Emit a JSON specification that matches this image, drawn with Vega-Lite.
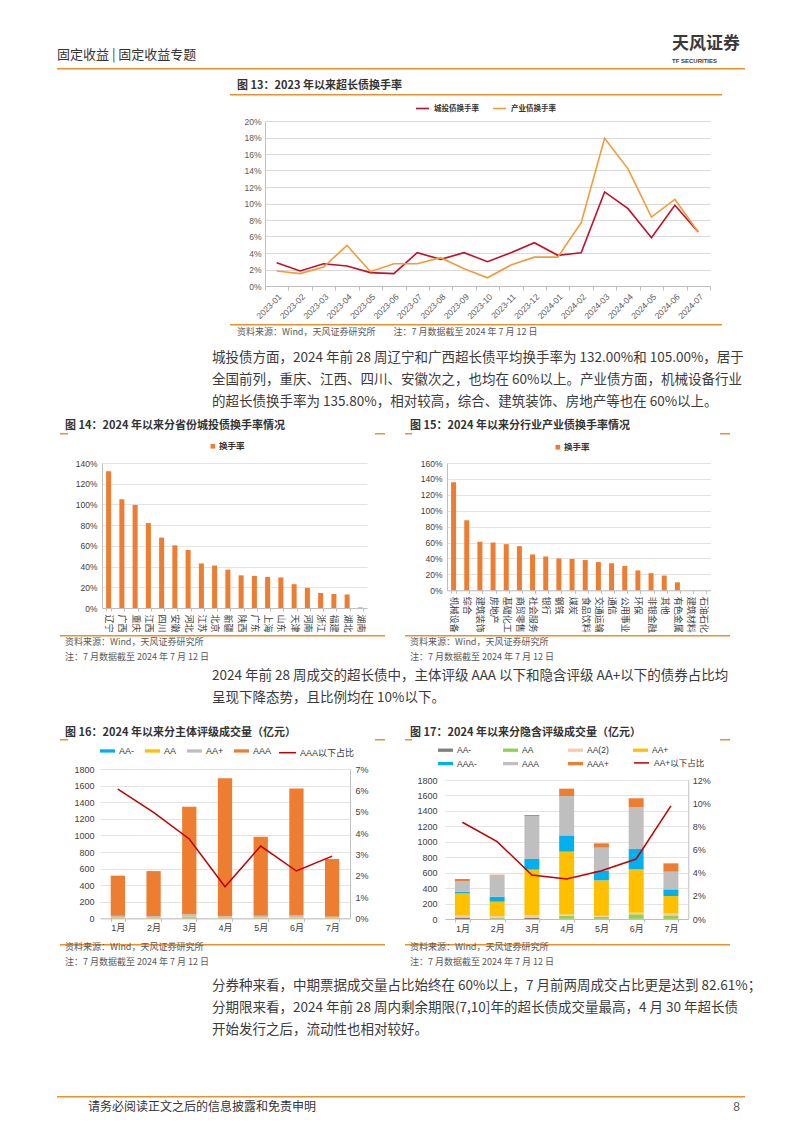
{
  "$schema": "https://vega.github.io/schema/vega-lite/v6.json",
  "background": "#ffffff",
  "padding": {"left": 57, "top": 20, "right": 0, "bottom": 0},
  "autosize": {"type": "pad"},
  "config": {
    "view": {"stroke": null},
    "font": "Noto Sans CJK SC",
    "title": {"anchor": "start", "frame": "group", "font": "Noto Sans CJK SC", "limit": 1000},
    "legend": {"padding": 0, "titlePadding": 0, "labelFont": "Liberation Sans, Noto Sans CJK SC"},
    "axis": {"labelFont": "Liberation Sans, Noto Sans CJK SC"}
  },
  "datasets": {
    "fig13": [
      {"month": "2023-01", "series": "城投债换手率", "value": 0.0283},
      {"month": "2023-02", "series": "城投债换手率", "value": 0.0182},
      {"month": "2023-03", "series": "城投债换手率", "value": 0.027},
      {"month": "2023-04", "series": "城投债换手率", "value": 0.0242},
      {"month": "2023-05", "series": "城投债换手率", "value": 0.0162},
      {"month": "2023-06", "series": "城投债换手率", "value": 0.015},
      {"month": "2023-07", "series": "城投债换手率", "value": 0.0404},
      {"month": "2023-08", "series": "城投债换手率", "value": 0.0323},
      {"month": "2023-09", "series": "城投债换手率", "value": 0.0404},
      {"month": "2023-10", "series": "城投债换手率", "value": 0.0295},
      {"month": "2023-11", "series": "城投债换手率", "value": 0.0404},
      {"month": "2023-12", "series": "城投债换手率", "value": 0.0525},
      {"month": "2024-01", "series": "城投债换手率", "value": 0.0372},
      {"month": "2024-02", "series": "城投债换手率", "value": 0.0404},
      {"month": "2024-03", "series": "城投债换手率", "value": 0.114},
      {"month": "2024-04", "series": "城投债换手率", "value": 0.0937},
      {"month": "2024-05", "series": "城投债换手率", "value": 0.0586},
      {"month": "2024-06", "series": "城投债换手率", "value": 0.0978},
      {"month": "2024-07", "series": "城投债换手率", "value": 0.0655},
      {"month": "2023-01", "series": "产业债换手率", "value": 0.0182},
      {"month": "2023-02", "series": "产业债换手率", "value": 0.015},
      {"month": "2023-03", "series": "产业债换手率", "value": 0.023},
      {"month": "2023-04", "series": "产业债换手率", "value": 0.0493},
      {"month": "2023-05", "series": "产业债换手率", "value": 0.0174},
      {"month": "2023-06", "series": "产业债换手率", "value": 0.027},
      {"month": "2023-07", "series": "产业债换手率", "value": 0.027},
      {"month": "2023-08", "series": "产业债换手率", "value": 0.0343},
      {"month": "2023-09", "series": "产业债换手率", "value": 0.021},
      {"month": "2023-10", "series": "产业债换手率", "value": 0.01},
      {"month": "2023-11", "series": "产业债换手率", "value": 0.0255},
      {"month": "2023-12", "series": "产业债换手率", "value": 0.035},
      {"month": "2024-01", "series": "产业债换手率", "value": 0.035},
      {"month": "2024-02", "series": "产业债换手率", "value": 0.0768},
      {"month": "2024-03", "series": "产业债换手率", "value": 0.179},
      {"month": "2024-04", "series": "产业债换手率", "value": 0.142},
      {"month": "2024-05", "series": "产业债换手率", "value": 0.0836},
      {"month": "2024-06", "series": "产业债换手率", "value": 0.105},
      {"month": "2024-07", "series": "产业债换手率", "value": 0.0655}
    ],
    "fig14": [
      {"province": "辽宁", "series": "换手率", "rate": 1.32},
      {"province": "广西", "series": "换手率", "rate": 1.05},
      {"province": "重庆", "series": "换手率", "rate": 0.995},
      {"province": "江西", "series": "换手率", "rate": 0.82},
      {"province": "四川", "series": "换手率", "rate": 0.68},
      {"province": "安徽", "series": "换手率", "rate": 0.605},
      {"province": "河北", "series": "换手率", "rate": 0.56},
      {"province": "江苏", "series": "换手率", "rate": 0.43},
      {"province": "北京", "series": "换手率", "rate": 0.41},
      {"province": "新疆", "series": "换手率", "rate": 0.37},
      {"province": "陕西", "series": "换手率", "rate": 0.315},
      {"province": "广东", "series": "换手率", "rate": 0.31},
      {"province": "上海", "series": "换手率", "rate": 0.30},
      {"province": "山东", "series": "换手率", "rate": 0.295},
      {"province": "天津", "series": "换手率", "rate": 0.23},
      {"province": "河南", "series": "换手率", "rate": 0.195},
      {"province": "浙江", "series": "换手率", "rate": 0.145},
      {"province": "福建", "series": "换手率", "rate": 0.135},
      {"province": "湖北", "series": "换手率", "rate": 0.13},
      {"province": "湖南", "series": "换手率", "rate": 0.005}
    ],
    "fig15": [
      {"industry": "机械设备", "series": "换手率", "rate": 1.358},
      {"industry": "综合", "series": "换手率", "rate": 0.88},
      {"industry": "建筑装饰", "series": "换手率", "rate": 0.61},
      {"industry": "房地产", "series": "换手率", "rate": 0.60},
      {"industry": "基础化工", "series": "换手率", "rate": 0.58},
      {"industry": "商贸零售", "series": "换手率", "rate": 0.555},
      {"industry": "社会服务", "series": "换手率", "rate": 0.45},
      {"industry": "银行", "series": "换手率", "rate": 0.425},
      {"industry": "钢铁", "series": "换手率", "rate": 0.40},
      {"industry": "煤炭", "series": "换手率", "rate": 0.395},
      {"industry": "食品饮料", "series": "换手率", "rate": 0.38},
      {"industry": "交通运输", "series": "换手率", "rate": 0.355},
      {"industry": "通信", "series": "换手率", "rate": 0.34},
      {"industry": "公用事业", "series": "换手率", "rate": 0.305},
      {"industry": "环保", "series": "换手率", "rate": 0.25},
      {"industry": "非银金融", "series": "换手率", "rate": 0.215},
      {"industry": "其他", "series": "换手率", "rate": 0.185},
      {"industry": "有色金属", "series": "换手率", "rate": 0.10},
      {"industry": "建筑材料", "series": "换手率", "rate": 0.0},
      {"industry": "石油石化", "series": "换手率", "rate": 0.0}
    ],
    "fig16bars": [
      {"month": "1月", "rating": "AA-", "rank": 1, "amount": 1},
      {"month": "1月", "rating": "AA", "rank": 2, "amount": 6},
      {"month": "1月", "rating": "AA+", "rank": 3, "amount": 24},
      {"month": "1月", "rating": "AAA", "rank": 4, "amount": 484},
      {"month": "2月", "rating": "AA-", "rank": 1, "amount": 1},
      {"month": "2月", "rating": "AA", "rank": 2, "amount": 5},
      {"month": "2月", "rating": "AA+", "rank": 3, "amount": 22},
      {"month": "2月", "rating": "AAA", "rank": 4, "amount": 542},
      {"month": "3月", "rating": "AA-", "rank": 1, "amount": 2},
      {"month": "3月", "rating": "AA", "rank": 2, "amount": 20},
      {"month": "3月", "rating": "AA+", "rank": 3, "amount": 28},
      {"month": "3月", "rating": "AAA", "rank": 4, "amount": 1295},
      {"month": "4月", "rating": "AA-", "rank": 1, "amount": 1},
      {"month": "4月", "rating": "AA", "rank": 2, "amount": 5},
      {"month": "4月", "rating": "AA+", "rank": 3, "amount": 19},
      {"month": "4月", "rating": "AAA", "rank": 4, "amount": 1665},
      {"month": "5月", "rating": "AA-", "rank": 1, "amount": 1},
      {"month": "5月", "rating": "AA", "rank": 2, "amount": 8},
      {"month": "5月", "rating": "AA+", "rank": 3, "amount": 24},
      {"month": "5月", "rating": "AAA", "rank": 4, "amount": 952},
      {"month": "6月", "rating": "AA-", "rank": 1, "amount": 1},
      {"month": "6月", "rating": "AA", "rank": 2, "amount": 10},
      {"month": "6月", "rating": "AA+", "rank": 3, "amount": 24},
      {"month": "6月", "rating": "AAA", "rank": 4, "amount": 1530},
      {"month": "7月", "rating": "AA-", "rank": 1, "amount": 1},
      {"month": "7月", "rating": "AA", "rank": 2, "amount": 5},
      {"month": "7月", "rating": "AA+", "rank": 3, "amount": 15},
      {"month": "7月", "rating": "AAA", "rank": 4, "amount": 694}
    ],
    "fig16line": [
      {"month": "1月", "series": "AAA以下占比", "pct": 0.0606},
      {"month": "2月", "series": "AAA以下占比", "pct": 0.0497},
      {"month": "3月", "series": "AAA以下占比", "pct": 0.0372},
      {"month": "4月", "series": "AAA以下占比", "pct": 0.0148},
      {"month": "5月", "series": "AAA以下占比", "pct": 0.0339},
      {"month": "6月", "series": "AAA以下占比", "pct": 0.0222},
      {"month": "7月", "series": "AAA以下占比", "pct": 0.0292}
    ],
    "fig17bars": [
      {"month": "1月", "rating": "AA-", "rank": 1, "amount": 15},
      {"month": "1月", "rating": "AA", "rank": 2, "amount": 8},
      {"month": "1月", "rating": "AA(2)", "rank": 3, "amount": 20},
      {"month": "1月", "rating": "AA+", "rank": 4, "amount": 289},
      {"month": "1月", "rating": "AAA-", "rank": 5, "amount": 22},
      {"month": "1月", "rating": "AAA", "rank": 6, "amount": 138},
      {"month": "1月", "rating": "AAA+", "rank": 7, "amount": 26},
      {"month": "2月", "rating": "AA-", "rank": 1, "amount": 5},
      {"month": "2月", "rating": "AA", "rank": 2, "amount": 8},
      {"month": "2月", "rating": "AA(2)", "rank": 3, "amount": 25},
      {"month": "2月", "rating": "AA+", "rank": 4, "amount": 186},
      {"month": "2月", "rating": "AAA-", "rank": 5, "amount": 65},
      {"month": "2月", "rating": "AAA", "rank": 6, "amount": 282},
      {"month": "2月", "rating": "AAA+", "rank": 7, "amount": 3},
      {"month": "3月", "rating": "AA-", "rank": 1, "amount": 15},
      {"month": "3月", "rating": "AA", "rank": 2, "amount": 6},
      {"month": "3月", "rating": "AA(2)", "rank": 3, "amount": 30},
      {"month": "3月", "rating": "AA+", "rank": 4, "amount": 588},
      {"month": "3月", "rating": "AAA-", "rank": 5, "amount": 138},
      {"month": "3月", "rating": "AAA", "rank": 6, "amount": 557},
      {"month": "3月", "rating": "AAA+", "rank": 7, "amount": 13},
      {"month": "4月", "rating": "AA-", "rank": 1, "amount": 3},
      {"month": "4月", "rating": "AA", "rank": 2, "amount": 40},
      {"month": "4月", "rating": "AA(2)", "rank": 3, "amount": 15},
      {"month": "4月", "rating": "AA+", "rank": 4, "amount": 814},
      {"month": "4月", "rating": "AAA-", "rank": 5, "amount": 211},
      {"month": "4月", "rating": "AAA", "rank": 6, "amount": 510},
      {"month": "4月", "rating": "AAA+", "rank": 7, "amount": 95},
      {"month": "5月", "rating": "AA-", "rank": 1, "amount": 3},
      {"month": "5月", "rating": "AA", "rank": 2, "amount": 25},
      {"month": "5月", "rating": "AA(2)", "rank": 3, "amount": 13},
      {"month": "5月", "rating": "AA+", "rank": 4, "amount": 460},
      {"month": "5月", "rating": "AAA-", "rank": 5, "amount": 121},
      {"month": "5月", "rating": "AAA", "rank": 6, "amount": 302},
      {"month": "5月", "rating": "AAA+", "rank": 7, "amount": 56},
      {"month": "6月", "rating": "AA-", "rank": 1, "amount": 3},
      {"month": "6月", "rating": "AA", "rank": 2, "amount": 58},
      {"month": "6月", "rating": "AA(2)", "rank": 3, "amount": 20},
      {"month": "6月", "rating": "AA+", "rank": 4, "amount": 562},
      {"month": "6月", "rating": "AAA-", "rank": 5, "amount": 263},
      {"month": "6月", "rating": "AAA", "rank": 6, "amount": 540},
      {"month": "6月", "rating": "AAA+", "rank": 7, "amount": 117},
      {"month": "7月", "rating": "AA-", "rank": 1, "amount": 2},
      {"month": "7月", "rating": "AA", "rank": 2, "amount": 45},
      {"month": "7月", "rating": "AA(2)", "rank": 3, "amount": 23},
      {"month": "7月", "rating": "AA+", "rank": 4, "amount": 228},
      {"month": "7月", "rating": "AAA-", "rank": 5, "amount": 86},
      {"month": "7月", "rating": "AAA", "rank": 6, "amount": 229},
      {"month": "7月", "rating": "AAA+", "rank": 7, "amount": 108}
    ],
    "fig17line": [
      {"month": "1月", "series": "AA+以下占比", "pct": 0.0835},
      {"month": "2月", "series": "AA+以下占比", "pct": 0.0668},
      {"month": "3月", "series": "AA+以下占比", "pct": 0.038},
      {"month": "4月", "series": "AA+以下占比", "pct": 0.0345},
      {"month": "5月", "series": "AA+以下占比", "pct": 0.0417},
      {"month": "6月", "series": "AA+以下占比", "pct": 0.0518},
      {"month": "7月", "series": "AA+以下占比", "pct": 0.0976}
    ]
  },
  "spacing": 0,
  "bounds": "flush",
  "resolve": {"scale": {"color": "independent", "fill": "independent", "stroke": "independent"}},
  "vconcat": [
    {"width": 688, "height": 47.5, "data": {"values": []}, "mark": "point"},
    {
      "spacing": 0, "bounds": "flush",
      "hconcat": [
        {"width": 615, "height": 1.5, "view": {"fill": "#E8912E"}, "data": {"values": []}, "mark": "point",
         "title": {"text": "固定收益 | 固定收益专题", "orient": "top", "offset": 5.8, "fontSize": 13, "fontWeight": "normal", "color": "#333333"}},
        {"width": 73, "height": 1.5, "view": {"fill": "#E8912E"}, "data": {"values": []}, "mark": "point",
         "title": {"text": "天风证券", "subtitle": "TF SECURITIES", "orient": "top", "offset": 3, "fontSize": 17, "fontWeight": "bold", "color": "#3a3a3a", "subtitleFontSize": 6, "subtitleFontWeight": "bold", "subtitleColor": "#3a3a3a", "subtitleFont": "Liberation Sans", "subtitlePadding": 5.5}}
      ]
    },
    {"width": 688, "height": 25.5, "data": {"values": []}, "mark": "point"},
    {
      "spacing": 0, "bounds": "flush",
      "hconcat": [
        {"width": 173, "height": 1.5, "data": {"values": []}, "mark": "point"},
        {"width": 492, "height": 1.5, "view": {"fill": "#E8912E"}, "data": {"values": []}, "mark": "point",
         "title": {"text": "图 13：2023 年以来超长债换手率", "orient": "top", "offset": 3, "dx": 7, "fontSize": 11, "fontWeight": "bold", "color": "#333333"}}
      ]
    },
    {"width": 688, "height": 27, "data": {"values": []}, "mark": "point"},
    {
      "spacing": 0, "bounds": "flush",
      "resolve": {"scale": {"color": "independent", "fill": "independent", "stroke": "independent"}},
      "hconcat": [
        {"width": 208, "height": 165, "data": {"values": []}, "mark": "point"},
        {
          "width": 445, "height": 165,
          "data": {"name": "fig13"},
          "mark": {"type": "line", "strokeWidth": 1.6},
          "encoding": {
            "x": {"field": "month", "type": "ordinal", "scale": {"type": "band", "paddingInner": 0, "paddingOuter": 0},
                  "axis": {"title": null, "labelAngle": -45, "labelFontSize": 8.5, "labelColor": "#595959", "tickBand": "extent", "tickSize": 4, "tickColor": "#BFBFBF", "domainColor": "#BFBFBF", "labelPadding": 2, "grid": false}},
            "y": {"field": "value", "type": "quantitative", "scale": {"domain": [0, 0.2]},
                  "axis": {"title": null, "format": ".0%", "values": [0, 0.02, 0.04, 0.06, 0.08, 0.1, 0.12, 0.14, 0.16, 0.18, 0.2], "labelFontSize": 8.5, "labelColor": "#595959", "gridColor": "#D9D9D9", "domainColor": "#BFBFBF", "ticks": false, "labelPadding": 4}},
            "color": {"field": "series", "type": "nominal",
                      "scale": {"domain": ["城投债换手率", "产业债换手率"], "range": ["#C0102A", "#F39B3A"]},
                      "legend": {"orient": "none", "legendX": 150, "legendY": -20, "direction": "horizontal", "title": null, "symbolType": "stroke", "symbolSize": 169, "symbolStrokeWidth": 1.6, "labelFontSize": 7.5, "labelFontWeight": "bold", "labelColor": "#333333", "labelOffset": 4, "columnPadding": 10}}
          }
        }
      ]
    },
    {"width": 688, "height": 202.5, "data": {"values": []}, "mark": "point"},
    {
      "spacing": 0, "bounds": "flush",
      "hconcat": [
        {"width": 173, "height": 1.5, "data": {"values": []}, "mark": "point"},
        {"width": 492, "height": 1.5, "view": {"fill": "#E8912E"}, "data": {"values": []}, "mark": "point",
         "title": {"text": "资料来源：Wind，天风证券研究所　　注：7 月数据截至 2024 年 7 月 12 日", "orient": "bottom", "baseline": "top", "offset": 2.3, "dx": 7, "fontSize": 9, "fontWeight": "normal", "color": "#595959"}}
      ]
    },
    {
      "spacing": 0, "bounds": "flush",
      "hconcat": [
        {"width": 155, "height": 27, "data": {"values": []}, "mark": "point"},
        {"width": 533, "height": 27, "data": {"values": []}, "mark": "point",
         "title": {"text": ["城投债方面，2024 年前 28 周辽宁和广西超长债平均换手率为 132.00%和 105.00%，居于", "全国前列，重庆、江西、四川、安徽次之，也均在 60%以上。产业债方面，机械设备行业", "的超长债换手率为 135.80%，相对较高，综合、建筑装饰、房地产等也在 60%以上。"], "orient": "bottom", "baseline": "top", "offset": 0, "lineHeight": 22, "fontSize": 13.5, "fontWeight": "normal", "color": "#3b3b3b"}}
      ]
    },
    {"width": 688, "height": 109, "data": {"values": []}, "mark": "point"},
    {
      "spacing": 0, "bounds": "flush",
      "hconcat": [
        {"width": 3, "height": 1.5, "data": {"values": []}, "mark": "point"},
        {"width": 8, "height": 1.5, "view": {"fill": "#E8912E"}, "data": {"values": []}, "mark": "point"},
        {"width": 307, "height": 1.5, "data": {"values": []}, "mark": "point",
         "title": {"text": "图 14：2024 年以来分省份城投债换手率情况", "orient": "top", "offset": 2.3, "dx": -3, "fontSize": 11, "fontWeight": "bold", "color": "#333333"}},
        {"width": 10, "height": 1.5, "view": {"fill": "#E8912E"}, "data": {"values": []}, "mark": "point"},
        {"width": 20, "height": 1.5, "data": {"values": []}, "mark": "point"},
        {"width": 7, "height": 1.5, "view": {"fill": "#E8912E"}, "data": {"values": []}, "mark": "point"},
        {"width": 308, "height": 1.5, "data": {"values": []}, "mark": "point",
         "title": {"text": "图 15：2024 年以来分行业产业债换手率情况", "orient": "top", "offset": 2.3, "dx": -2, "fontSize": 11, "fontWeight": "bold", "color": "#333333"}},
        {"width": 10, "height": 1.5, "view": {"fill": "#E8912E"}, "data": {"values": []}, "mark": "point"}
      ]
    },
    {"width": 688, "height": 30, "data": {"values": []}, "mark": "point"},
    {
      "spacing": 0, "bounds": "flush",
      "resolve": {"scale": {"color": "independent", "fill": "independent", "stroke": "independent"}},
      "hconcat": [
        {"width": 44.7, "height": 145, "data": {"values": []}, "mark": "point"},
        {
          "width": 265, "height": 145,
          "data": {"name": "fig14"},
          "mark": {"type": "bar", "color": "#ED7D31"},
          "encoding": {
            "x": {"field": "province", "type": "nominal", "sort": null, "scale": {"paddingInner": 0.62, "paddingOuter": 0.31},
                  "axis": {"title": null, "labelAngle": 90, "labelFontSize": 9, "labelColor": "#404040", "tickBand": "extent", "tickSize": 3, "tickColor": "#BFBFBF", "domainColor": "#BFBFBF", "labelPadding": 3}},
            "y": {"field": "rate", "type": "quantitative", "scale": {"domain": [0, 1.4]},
                  "axis": {"title": null, "format": ".0%", "values": [0, 0.2, 0.4, 0.6, 0.8, 1.0, 1.2, 1.4], "labelFontSize": 8.5, "labelColor": "#404040", "gridColor": "#E3E3E3", "domainColor": "#BFBFBF", "ticks": false, "labelPadding": 5}},
            "color": {"field": "series", "type": "nominal", "scale": {"range": ["#ED7D31"]},
                      "legend": {"orient": "none", "legendX": 106.6, "legendY": -21, "title": null, "symbolType": "square", "symbolSize": 22, "labelFontSize": 8.5, "labelFontWeight": "bold", "labelColor": "#333333", "labelOffset": 2}}
          }
        },
        {"width": 80, "height": 145, "data": {"values": []}, "mark": "point"},
        {
          "width": 263.3, "height": 127.3,
          "data": {"name": "fig15"},
          "mark": {"type": "bar", "color": "#ED7D31"},
          "encoding": {
            "x": {"field": "industry", "type": "nominal", "sort": null, "scale": {"paddingInner": 0.62, "paddingOuter": 0.31},
                  "axis": {"title": null, "labelAngle": 90, "labelFontSize": 9, "labelColor": "#404040", "tickBand": "extent", "tickSize": 3, "tickColor": "#BFBFBF", "domainColor": "#BFBFBF", "labelPadding": 3}},
            "y": {"field": "rate", "type": "quantitative", "scale": {"domain": [0, 1.6]},
                  "axis": {"title": null, "format": ".0%", "values": [0, 0.2, 0.4, 0.6, 0.8, 1.0, 1.2, 1.4, 1.6], "labelFontSize": 8.5, "labelColor": "#404040", "gridColor": "#E3E3E3", "domainColor": "#BFBFBF", "ticks": false, "labelPadding": 5}},
            "color": {"field": "series", "type": "nominal", "scale": {"range": ["#ED7D31"]},
                      "legend": {"orient": "none", "legendX": 106.6, "legendY": -20, "title": null, "symbolType": "square", "symbolSize": 22, "labelFontSize": 8.5, "labelFontWeight": "bold", "labelColor": "#333333", "labelOffset": 2}}
          }
        }
      ]
    },
    {"width": 688, "height": 172, "data": {"values": []}, "mark": "point"},
    {
      "spacing": 0, "bounds": "flush",
      "hconcat": [
        {"width": 3, "height": 1.5, "data": {"values": []}, "mark": "point"},
        {"width": 325, "height": 1.5, "view": {"fill": "#E8912E"}, "data": {"values": []}, "mark": "point",
         "title": {"text": ["资料来源：Wind，天风证券研究所", "注：7 月数据截至 2024 年 7 月 12 日"], "orient": "bottom", "baseline": "top", "offset": 1.3, "dx": 5, "lineHeight": 15.5, "fontSize": 9, "fontWeight": "normal", "color": "#595959"}},
        {"width": 20, "height": 1.5, "data": {"values": []}, "mark": "point"},
        {"width": 325, "height": 1.5, "view": {"fill": "#E8912E"}, "data": {"values": []}, "mark": "point",
         "title": {"text": ["资料来源：Wind，天风证券研究所", "注：7 月数据截至 2024 年 7 月 12 日"], "orient": "bottom", "baseline": "top", "offset": 1.3, "dx": 5, "lineHeight": 15.5, "fontSize": 9, "fontWeight": "normal", "color": "#595959"}}
      ]
    },
    {
      "spacing": 0, "bounds": "flush",
      "hconcat": [
        {"width": 155, "height": 34, "data": {"values": []}, "mark": "point"},
        {"width": 533, "height": 34, "data": {"values": []}, "mark": "point",
         "title": {"text": ["2024 年前 28 周成交的超长债中，主体评级 AAA 以下和隐含评级 AA+以下的债券占比均", "呈现下降态势，且比例均在 10%以下。"], "orient": "bottom", "baseline": "top", "offset": 0, "lineHeight": 22, "fontSize": 13.5, "fontWeight": "normal", "color": "#3b3b3b"}}
      ]
    },
    {"width": 688, "height": 104, "data": {"values": []}, "mark": "point"},
    {
      "spacing": 0, "bounds": "flush",
      "hconcat": [
        {"width": 3, "height": 1.5, "data": {"values": []}, "mark": "point"},
        {"width": 8, "height": 1.5, "view": {"fill": "#E8912E"}, "data": {"values": []}, "mark": "point"},
        {"width": 307, "height": 1.5, "data": {"values": []}, "mark": "point",
         "title": {"text": "图 16：2024 年以来分主体评级成交量（亿元）", "orient": "top", "offset": 1, "dx": -3, "fontSize": 11, "fontWeight": "bold", "color": "#333333"}},
        {"width": 10, "height": 1.5, "view": {"fill": "#E8912E"}, "data": {"values": []}, "mark": "point"},
        {"width": 20, "height": 1.5, "data": {"values": []}, "mark": "point"},
        {"width": 7, "height": 1.5, "view": {"fill": "#E8912E"}, "data": {"values": []}, "mark": "point"},
        {"width": 308, "height": 1.5, "data": {"values": []}, "mark": "point",
         "title": {"text": "图 17：2024 年以来分隐含评级成交量（亿元）", "orient": "top", "offset": 1, "dx": -2, "fontSize": 11, "fontWeight": "bold", "color": "#333333"}},
        {"width": 10, "height": 1.5, "view": {"fill": "#E8912E"}, "data": {"values": []}, "mark": "point"}
      ]
    },
    {"width": 688, "height": 29.8, "data": {"values": []}, "mark": "point"},
    {
      "spacing": 0, "bounds": "flush",
      "resolve": {"scale": {"color": "independent", "fill": "independent", "stroke": "independent"}},
      "hconcat": [
        {"width": 43, "height": 150, "data": {"values": []}, "mark": "point"},
        {
          "width": 250, "height": 149.4,
          "layer": [
            {
              "data": {"name": "fig16bars"},
              "mark": {"type": "bar"},
              "encoding": {
                "x": {"field": "month", "type": "nominal", "scale": {"paddingInner": 0.6, "paddingOuter": 0.3},
                      "axis": {"title": null, "labelAngle": 0, "labelFontSize": 9, "labelColor": "#404040", "tickBand": "extent", "tickSize": 3, "tickColor": "#BFBFBF", "domainColor": "#BFBFBF", "labelPadding": 2}},
                "y": {"field": "amount", "type": "quantitative", "stack": "zero", "scale": {"domain": [0, 1800]},
                      "axis": {"title": null, "values": [0, 200, 400, 600, 800, 1000, 1200, 1400, 1600, 1800], "format": "d", "labelFontSize": 9, "labelColor": "#404040", "gridColor": "#E3E3E3", "domain": false, "ticks": false, "labelPadding": 6}},
                "order": {"field": "rank", "type": "quantitative", "sort": "ascending"},
                "fill": {"field": "rating", "type": "nominal",
                         "scale": {"domain": ["AA-", "AA", "AA+", "AAA"], "range": ["#00B0F0", "#FFC000", "#BFBFBF", "#ED7D31"]},
                         "legend": {"orient": "none", "legendX": 0, "legendY": -25.8, "direction": "horizontal", "title": null, "symbolType": "M-1,-0.22H1V0.22H-1Z", "symbolSize": 225, "symbolStrokeWidth": 0, "labelFontSize": 9, "labelColor": "#333333", "labelOffset": 4, "columnPadding": 10}}
              }
            },
            {
              "data": {"name": "fig16line"},
              "mark": {"type": "line", "strokeWidth": 1.5},
              "encoding": {
                "x": {"field": "month", "type": "nominal"},
                "y": {"field": "pct", "type": "quantitative", "scale": {"domain": [0, 0.07]},
                      "axis": {"orient": "right", "title": null, "format": ".0%", "values": [0, 0.01, 0.02, 0.03, 0.04, 0.05, 0.06, 0.07], "labelFontSize": 9, "labelColor": "#404040", "grid": false, "domainColor": "#BFBFBF", "ticks": false, "labelPadding": 5}},
                "stroke": {"field": "series", "type": "nominal", "scale": {"range": ["#C00000"]},
                           "legend": {"orient": "none", "legendX": 178, "legendY": -25.8, "title": null, "symbolType": "stroke", "symbolSize": 289, "symbolStrokeWidth": 1.5, "labelFontSize": 9, "labelColor": "#333333", "labelOffset": 3}}
              }
            }
          ],
          "resolve": {"scale": {"y": "independent"}}
        },
        {"width": 95, "height": 150, "data": {"values": []}, "mark": "point"},
        {
          "spacing": 0, "bounds": "flush",
          "resolve": {"scale": {"color": "independent", "fill": "independent", "stroke": "independent"}},
          "vconcat": [
            {"width": 243.3, "height": 11, "data": {"values": []}, "mark": "point"},
            {
              "width": 243.3, "height": 139,
              "layer": [
                {
                  "data": {"name": "fig17bars"},
                  "mark": {"type": "bar"},
                  "encoding": {
                    "x": {"field": "month", "type": "nominal", "scale": {"paddingInner": 0.57, "paddingOuter": 0.285},
                          "axis": {"title": null, "labelAngle": 0, "labelFontSize": 9, "labelColor": "#404040", "tickBand": "extent", "tickSize": 3, "tickColor": "#BFBFBF", "domainColor": "#BFBFBF", "labelPadding": 2}},
                    "y": {"field": "amount", "type": "quantitative", "stack": "zero", "scale": {"domain": [0, 1800]},
                          "axis": {"title": null, "values": [0, 200, 400, 600, 800, 1000, 1200, 1400, 1600, 1800], "format": "d", "labelFontSize": 9, "labelColor": "#404040", "gridColor": "#E3E3E3", "domain": false, "ticks": false, "labelPadding": 8}},
                    "order": {"field": "rank", "type": "quantitative", "sort": "ascending"},
                    "fill": {"field": "rating", "type": "nominal",
                             "scale": {"domain": ["AA-", "AA", "AA(2)", "AA+", "AAA-", "AAA", "AAA+"], "range": ["#7F7F7F", "#92D050", "#F8CBAD", "#FFC000", "#00B0F0", "#BFBFBF", "#ED7D31"]},
                             "legend": {"orient": "none", "legendX": -7, "legendY": -37.3, "direction": "horizontal", "columns": 4, "gridAlign": "all", "title": null, "symbolType": "M-1,-0.22H1V0.22H-1Z", "symbolSize": 225, "symbolStrokeWidth": 0, "labelFontSize": 8.5, "labelColor": "#333333", "labelOffset": 4, "columnPadding": 24, "rowPadding": 1.4}}
                  }
                },
                {
                  "data": {"name": "fig17line"},
                  "mark": {"type": "line", "strokeWidth": 1.5},
                  "encoding": {
                    "x": {"field": "month", "type": "nominal"},
                    "y": {"field": "pct", "type": "quantitative", "scale": {"domain": [0, 0.12]},
                          "axis": {"orient": "right", "title": null, "format": ".0%", "values": [0, 0.02, 0.04, 0.06, 0.08, 0.1, 0.12], "labelFontSize": 9, "labelColor": "#404040", "grid": false, "domainColor": "#BFBFBF", "ticks": false, "labelPadding": 4}},
                    "stroke": {"field": "series", "type": "nominal", "scale": {"range": ["#C00000"]},
                               "legend": {"orient": "none", "legendX": 188, "legendY": -25.6, "title": null, "symbolType": "stroke", "symbolSize": 225, "symbolStrokeWidth": 1.5, "labelFontSize": 8.5, "labelColor": "#333333", "labelOffset": 4}}
                  }
                }
              ],
              "resolve": {"scale": {"y": "independent"}}
            }
          ]
        }
      ]
    },
    {"width": 688, "height": 174.4, "data": {"values": []}, "mark": "point"},
    {
      "spacing": 0, "bounds": "flush",
      "hconcat": [
        {"width": 3, "height": 1.5, "data": {"values": []}, "mark": "point"},
        {"width": 325, "height": 1.5, "view": {"fill": "#E8912E"}, "data": {"values": []}, "mark": "point",
         "title": {"text": ["资料来源：Wind，天风证券研究所", "注：7 月数据截至 2024 年 7 月 12 日"], "orient": "bottom", "baseline": "top", "offset": -2.5, "dx": 5, "lineHeight": 15, "fontSize": 9, "fontWeight": "normal", "color": "#595959"}},
        {"width": 20, "height": 1.5, "data": {"values": []}, "mark": "point"},
        {"width": 325, "height": 1.5, "view": {"fill": "#E8912E"}, "data": {"values": []}, "mark": "point",
         "title": {"text": ["资料来源：Wind，天风证券研究所", "注：7 月数据截至 2024 年 7 月 12 日"], "orient": "bottom", "baseline": "top", "offset": -2.5, "dx": 5, "lineHeight": 15, "fontSize": 9, "fontWeight": "normal", "color": "#595959"}}
      ]
    },
    {
      "spacing": 0, "bounds": "flush",
      "hconcat": [
        {"width": 155, "height": 34.8, "data": {"values": []}, "mark": "point"},
        {"width": 533, "height": 34.8, "data": {"values": []}, "mark": "point",
         "title": {"text": ["分券种来看，中期票据成交量占比始终在 60%以上，7 月前两周成交占比更是达到 82.61%；", "分期限来看，2024 年前 28 周内剩余期限(7,10]年的超长债成交量最高，4 月 30 年超长债", "开始发行之后，流动性也相对较好。"], "orient": "bottom", "baseline": "top", "offset": 0, "lineHeight": 22, "fontSize": 13.5, "fontWeight": "normal", "color": "#3b3b3b"}}
      ]
    },
    {"width": 688, "height": 151.8, "data": {"values": []}, "mark": "point"},
    {
      "spacing": 0, "bounds": "flush",
      "hconcat": [
        {"width": 600, "height": 1.5, "view": {"fill": "#E8912E"}, "data": {"values": []}, "mark": "point",
         "title": {"text": "请务必阅读正文之后的信息披露和免责申明", "orient": "bottom", "baseline": "top", "offset": 4, "dx": 31, "fontSize": 12, "fontWeight": "normal", "color": "#333333"}},
        {"width": 88, "height": 1.5, "view": {"fill": "#E8912E"}, "data": {"values": []}, "mark": "point",
         "title": {"text": "8", "orient": "bottom", "anchor": "end", "baseline": "top", "offset": 4, "dx": -5, "fontSize": 12, "fontWeight": "normal", "color": "#595959", "font": "Liberation Sans"}}
      ]
    }
  ]
}
